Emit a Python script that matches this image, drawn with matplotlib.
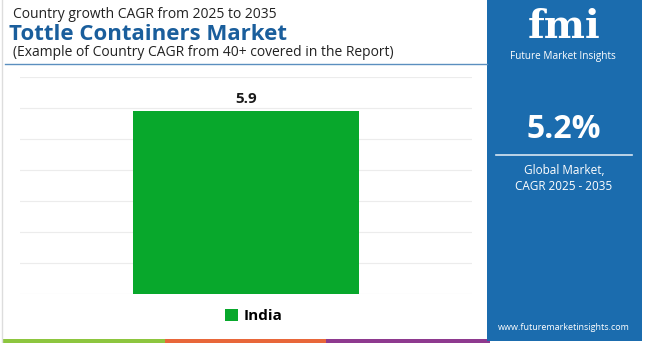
import matplotlib
matplotlib.use("Agg")
import matplotlib.pyplot as plt
from matplotlib.patches import Rectangle

plt.rcParams["font.family"] = ["Open Sans", "DejaVu Sans"]

# data
countries = ["India"]
cagr = [5.9]
bar_colors = ["#08a82c"]
global_cagr = "5.2%"
yticks = [0, 1, 2, 3, 4, 5, 6, 7]

W, H = 650, 343
BLUE = "#1b6cae"
TITLE_BLUE = "#1a5e9c"

fig = plt.figure(figsize=(W / 100, H / 100), dpi=100)
fig.patch.set_facecolor("white")


def px(x, y):
    """pixel (from top-left) -> figure fraction"""
    return x / W, 1 - y / H


def frect(x0, y0, x1, y1, **kw):
    fig.patches.append(Rectangle(px(x0, y1), (x1 - x0) / W, (y1 - y0) / H,
                                 transform=fig.transFigure, **kw))


# titles
fig.text(*px(13, 15), "Country growth CAGR from 2025 to 2035", fontsize=10,
         color="#222222", va="center", ha="left")
fig.text(*px(9, 34), "Tottle Containers Market", fontsize=16, fontweight="bold",
         color=TITLE_BLUE, va="center", ha="left")
fig.text(*px(13, 52), "(Example of Country CAGR from 40+ covered in the Report)", fontsize=10,
         color="#222222", va="center", ha="left")
fig.add_artist(plt.Line2D([5 / W, 487 / W], [1 - 64 / H] * 2, color="#5b8fbf", lw=1.0,
                          transform=fig.transFigure))
fig.add_artist(plt.Line2D([2 / W, 2 / W], [0, 1], color="#dddddd", lw=1.0,
                          transform=fig.transFigure))

# chart
ax = fig.add_axes([px(20, 0)[0], px(0, 294)[1], (472 - 20) / W, (294 - 77) / H])
ax.bar(countries, cagr, color=bar_colors, width=0.5, zorder=2, label=countries[0])
ax.set_ylim(yticks[0], yticks[-1])
ax.set_xlim(-0.5, 0.5)
ax.set_yticks(yticks)
ax.grid(axis="y", color="#ececec", lw=0.8, zorder=0)
ax.tick_params(left=False, bottom=False, labelleft=False, labelbottom=False)
for s in ax.spines.values():
    s.set_visible(False)
for i, v in enumerate(cagr):
    ax.annotate(f"{v}", (i, v), xytext=(0, 4), textcoords="offset points",
                ha="center", va="bottom", fontsize=11, fontweight="bold", color="#1a1a1a")

leg = fig.legend(loc="center", bbox_to_anchor=px(254, 316), frameon=False,
                 handlelength=0.8, handleheight=0.8, handletextpad=0.4,
                 prop={"size": 11, "weight": "bold"})

# bottom stripes
frect(3, 339, 165, 343, color="#8dc63f", lw=0)
frect(165, 339, 326, 343, color="#e8673a", lw=0)
frect(326, 339, 490, 343, color="#8e3a8f", lw=0)

# side panel
frect(487, 0, 642, 341, color=BLUE, lw=0)
fig.text(*px(564, 27), "fmi", fontsize=28, fontweight="bold", color="white",
         ha="center", va="center", family=["DejaVu Serif"])
for yy in range(16, 46, 4):
    fig.add_artist(plt.Line2D([510 / W, 618 / W], [1 - yy / H] * 2, color=BLUE, lw=0.6,
                              transform=fig.transFigure))
fig.text(*px(563, 57), "Future Market Insights", fontsize=7.2, color="white",
         ha="center", va="center")
fig.text(*px(564, 130), global_cagr, fontsize=23, fontweight="bold", color="white",
         ha="center", va="center")
fig.add_artist(plt.Line2D([496 / W, 632 / W], [1 - 155 / H] * 2, color="#d8e6f2", lw=1.2,
                          transform=fig.transFigure))
fig.text(*px(564, 171), "Global Market,", fontsize=8.5, color="white", ha="center", va="center")
fig.text(*px(564, 186), "CAGR 2025 - 2035", fontsize=8.5, color="white", ha="center", va="center")
fig.text(*px(564, 328), "www.futuremarketinsights.com", fontsize=6.5, color="white",
         ha="center", va="center")

fig.savefig("out.png", dpi=100)
